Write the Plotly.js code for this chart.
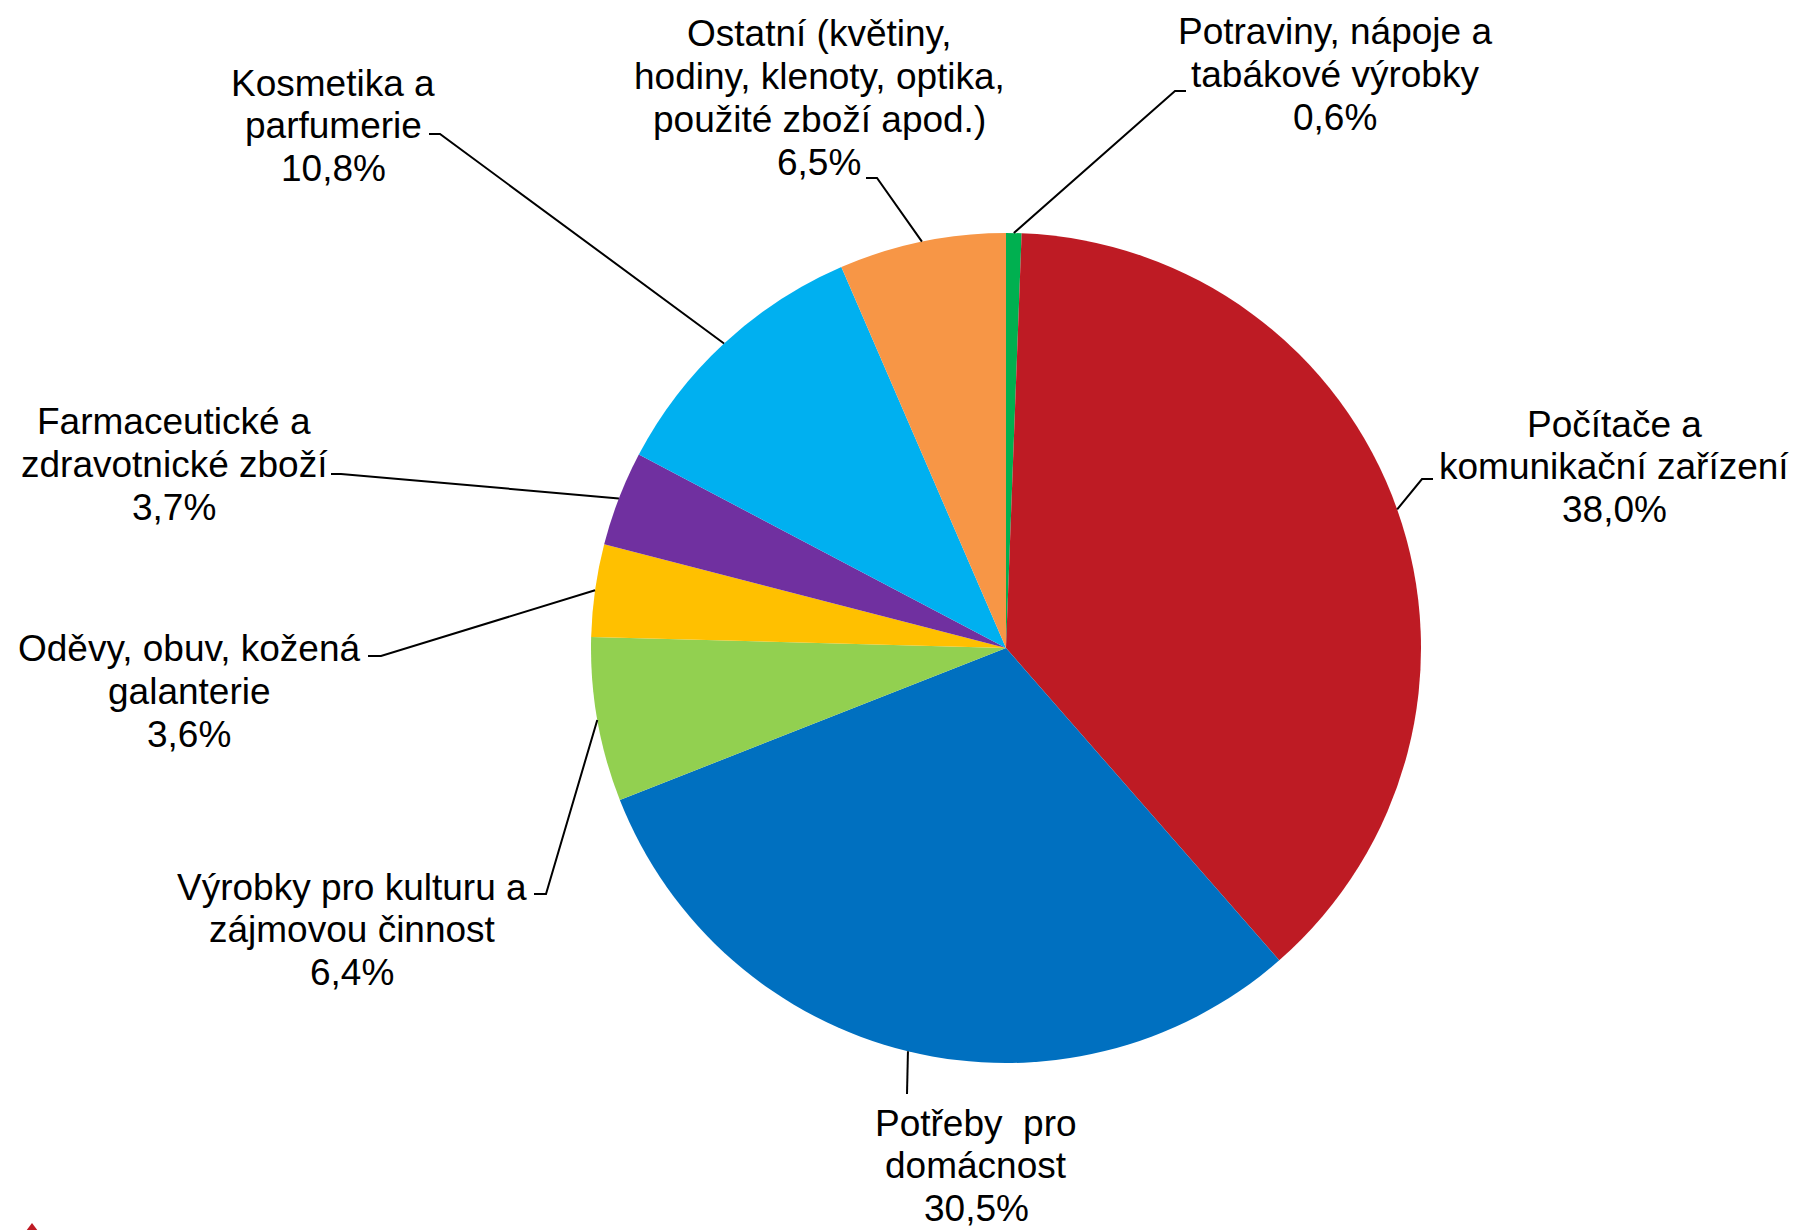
<!DOCTYPE html>
<html>
<head>
<meta charset="utf-8">
<script src="https://cdn.plot.ly/plotly-3.0.1.min.js"></script>
<style>
  html, body { margin: 0; padding: 0; background: #ffffff; }
  #chart { width: 1796px; height: 1230px; }
</style>
</head>
<body>
<div id="chart"></div>
<script>
// ---- data ----
const categories = [
  'Potraviny, nápoje a tabákové výrobky',
  'Počítače a komunikační zařízení',
  'Potřeby pro domácnost',
  'Výrobky pro kulturu a zájmovou činnost',
  'Oděvy, obuv, kožená galanterie',
  'Farmaceutické a zdravotnické zboží',
  'Kosmetika a parfumerie',
  'Ostatní (květiny, hodiny, klenoty, optika, použité zboží apod.)'
];
const labelLines = [
  ['Potraviny, nápoje a', 'tabákové výrobky'],
  ['Počítače a', 'komunikační zařízení'],
  ['Potřeby\u00A0 pro', 'domácnost'],
  ['Výrobky pro kulturu a', 'zájmovou činnost'],
  ['Oděvy, obuv, kožená', 'galanterie'],
  ['Farmaceutické a', 'zdravotnické zboží'],
  ['Kosmetika a', 'parfumerie'],
  ['Ostatní (květiny,', 'hodiny, klenoty, optika,', 'použité zboží apod.)']
];
const values = [0.6, 38.0, 30.5, 6.4, 3.6, 3.7, 10.8, 6.5];
const colors = ['#00B050', '#BE1B24', '#0070C0', '#92D050', '#FFC000', '#7030A0', '#00B0F0', '#F79646'];

// ---- layout (pixels) ----
const W = 1796, H = 1230;
const pieCx = 1006, pieCy = 648, pieR = 415;
const fontSize = 37, lineGap = 42.8;
const FONT = 'Liberation Sans, Arial, sans-serif';
// centre of first text line for each label
const labelPos = [[1335, 32], [1614, 424], [976, 1123], [352, 887], [189, 649], [174, 422], [333, 83], [819, 34]];
// leader line points after the slice point (elbow, end)
const leaderPts = [
  [[1175, 91], [1186, 91]],
  [[1422, 479], [1433, 479]],
  [[907, 1094]],
  [[546, 894], [534, 894]],
  [[381, 656], [368, 656]],
  [[341, 474], [331, 474]],
  [[440, 134], [429, 134]],
  [[877, 178], [866, 178]]
];

const px = x => x / W;
const py = y => 1 - y / H;

const total = values.reduce((a, b) => a + b, 0);
const fmt = v => v.toFixed(1).replace('.', ',') + '%';

const annotations = [];
const shapes = [];
let cum = 0;
values.forEach((v, i) => {
  const mid = (cum + v / 2) / total * 2 * Math.PI;
  cum += v;
  const sx = pieCx + pieR * Math.sin(mid);
  const sy = pieCy - pieR * Math.cos(mid);
  let path = 'M ' + px(sx) + ' ' + py(sy);
  leaderPts[i].forEach(p => { path += ' L ' + px(p[0]) + ' ' + py(p[1]); });
  shapes.push({type: 'path', xref: 'paper', yref: 'paper', path: path,
               line: {color: '#000000', width: 2}});

  const lines = labelLines[i].concat([fmt(v)]);
  lines.forEach((t, k) => {
    annotations.push({
      xref: 'paper', yref: 'paper',
      x: px(labelPos[i][0]), y: py(labelPos[i][1] + k * lineGap),
      xanchor: 'center', yanchor: 'middle',
      text: t, showarrow: false,
      font: {family: FONT, size: fontSize, color: '#000000'}
    });
  });
});

// small red mark at bottom-left corner
shapes.push({type: 'path', xref: 'paper', yref: 'paper',
  path: 'M ' + px(26) + ' ' + py(1231) + ' L ' + px(32) + ' ' + py(1223) + ' L ' + px(38) + ' ' + py(1231) + ' Z',
  fillcolor: '#BE1B24', line: {width: 0}});

const trace = {
  type: 'pie',
  values: values,
  labels: categories,
  sort: false,
  direction: 'clockwise',
  rotation: 0,
  textinfo: 'none',
  hoverinfo: 'label+percent',
  marker: {colors: colors, line: {width: 0}},
  domain: {x: [px(pieCx - pieR), px(pieCx + pieR)], y: [py(pieCy + pieR), py(pieCy - pieR)]},
  showlegend: false
};

const layout = {
  width: W, height: H,
  margin: {l: 0, r: 0, t: 0, b: 0},
  paper_bgcolor: '#ffffff',
  plot_bgcolor: '#ffffff',
  showlegend: false,
  annotations: annotations,
  shapes: shapes,
  font: {family: FONT}
};

Plotly.newPlot('chart', [trace], layout, {displayModeBar: false, staticPlot: true});
</script>
</body>
</html>
